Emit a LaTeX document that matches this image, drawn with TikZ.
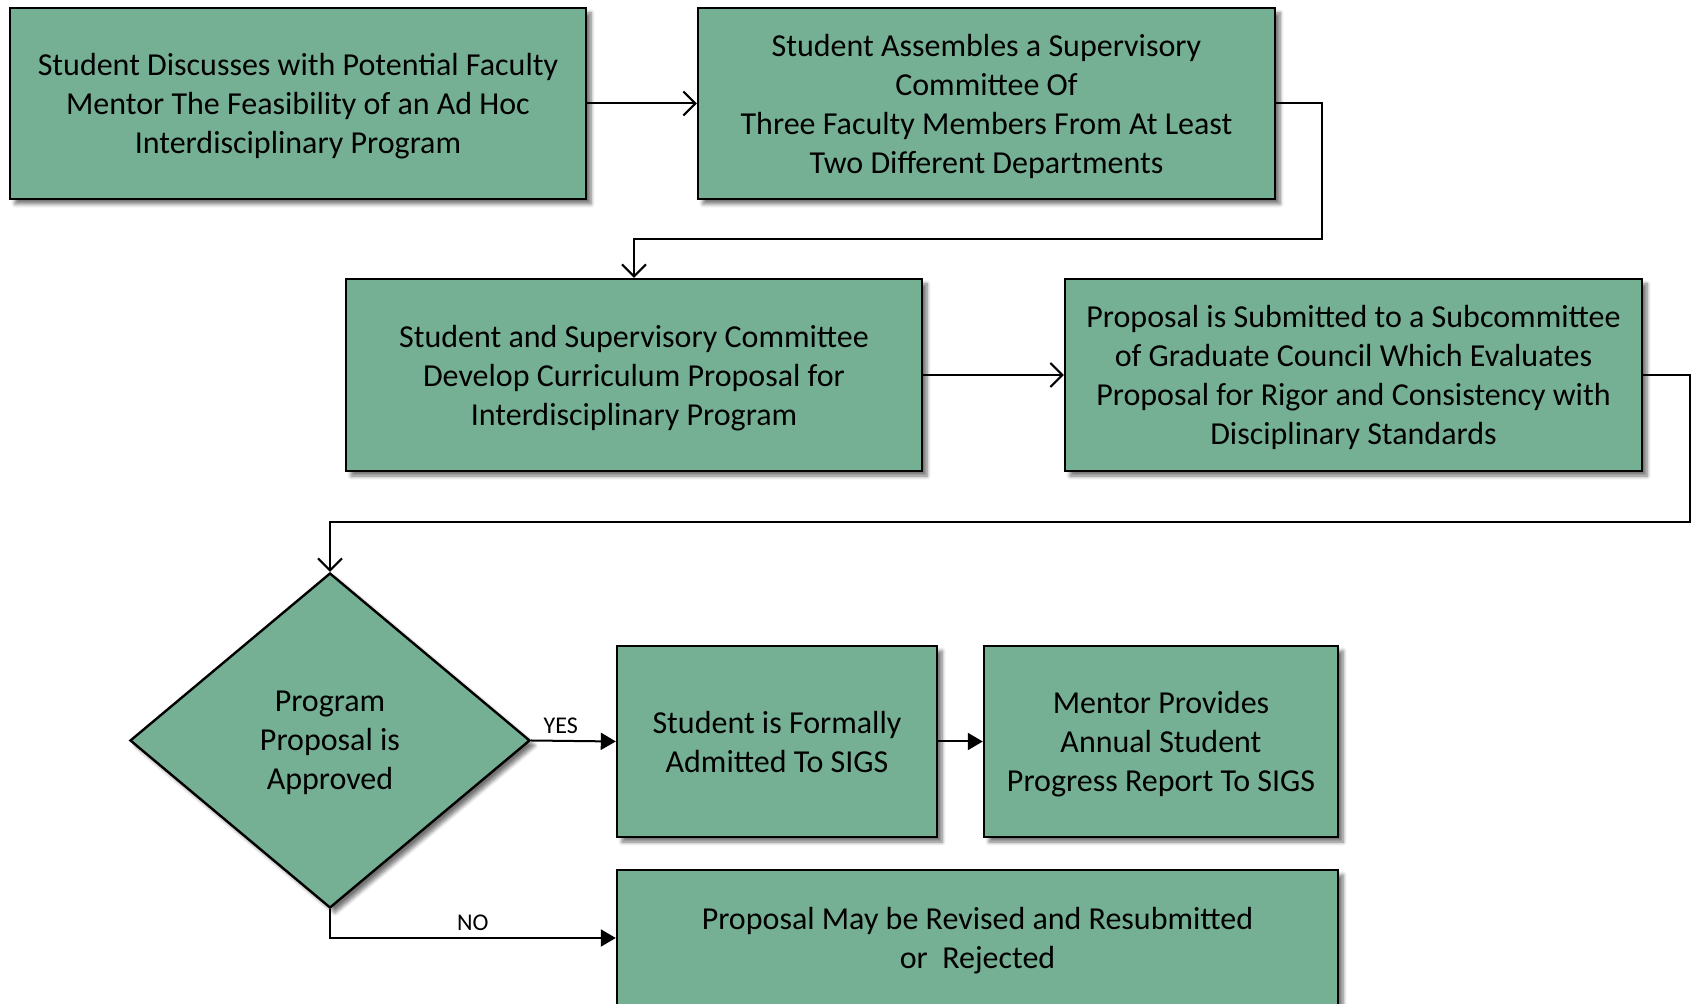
\documentclass[tikz,border=0pt]{standalone}
\usepackage{fontspec}
\setmainfont{Carlito}
\usepackage{tikz}
\usetikzlibrary{shapes.geometric,arrows.meta,shadows.blur}

\definecolor{boxgreen}{RGB}{117,176,149}

\tikzset{
	stepbox/.style={draw=black, line width=1.2pt, fill=boxgreen, inner sep=0pt, align=center,
		text depth=0pt, font=\fontsize{16}{19.5}\selectfont,
		blur shadow={shadow xshift=2.5pt, shadow yshift=-2.5pt, shadow blur steps=6, shadow opacity=55}},
	decision/.style={stepbox, diamond, minimum width=200pt, minimum height=167.5pt},
	link/.style={line width=1pt, -{Straight Barb[length=6pt,width=12pt,line width=1pt]}},
	solid link/.style={line width=1pt, -{Triangle[length=7.5pt,width=8.5pt]}},
	answer/.style={font=\fontsize{12}{14}\selectfont, anchor=south}
}

\begin{document}
\begin{tikzpicture}[x=0.5pt, y=-0.5pt]
	\useasboundingbox (0,0) rectangle (1694,1004);
	\node[stepbox, minimum width=288pt, minimum height=95.5pt] (discuss) at (298,103.5)
		{Student Discusses with Potential Faculty\\Mentor The Feasibility of an Ad Hoc\\Interdisciplinary Program};
	\node[stepbox, minimum width=288.5pt, minimum height=95.5pt] (assemble) at (986.5,103.5)
		{Student Assembles a Supervisory\\Committee Of\\Three Faculty Members From At Least\\Two Different Departments};
	\node[stepbox, minimum width=288pt, minimum height=96pt] (develop) at (634,375)
		{Student and Supervisory Committee\\Develop Curriculum Proposal for\\Interdisciplinary Program};
	\node[stepbox, minimum width=288.5pt, minimum height=96pt] (submit) at (1353.5,375)
		{Proposal is Submitted to a Subcommittee\\of Graduate Council Which Evaluates\\Proposal for Rigor and Consistency with\\Disciplinary Standards};
	\node[decision] (approved) at (330,740.5) {Program\\Proposal is\\Approved};
	\node[stepbox, minimum width=160pt, minimum height=95.5pt] (admitted) at (777,741.5)
		{Student is Formally\\Admitted To SIGS};
	\node[stepbox, minimum width=177pt, minimum height=95.5pt] (report) at (1161,741.5)
		{Mentor Provides\\Annual Student\\Progress Report To SIGS};
	\node[stepbox, minimum width=360.5pt, minimum height=68pt] (revise) at (977.5,938)
		{Proposal May be Revised and Resubmitted\\or\ \ Rejected};

	\coordinate (turn1) at (1322,239);
	\coordinate (turn2) at (1690,522);

	\draw[link] (discuss.east) -- (assemble.west);
	\draw[link] (assemble.east) -| (turn1) -| (develop.north);
	\draw[link] (develop.east) -- (submit.west);
	\draw[link] (submit.east) -| (turn2) -| (approved.north);
	\draw[solid link] (approved.east) -- node[answer, pos=0.35] {YES} (admitted.west);
	\draw[solid link] (admitted.east) -- (report.west);
	\draw[solid link] (approved.south) |- node[answer, pos=0.75] {NO} (revise.west);
\end{tikzpicture}
\end{document}
